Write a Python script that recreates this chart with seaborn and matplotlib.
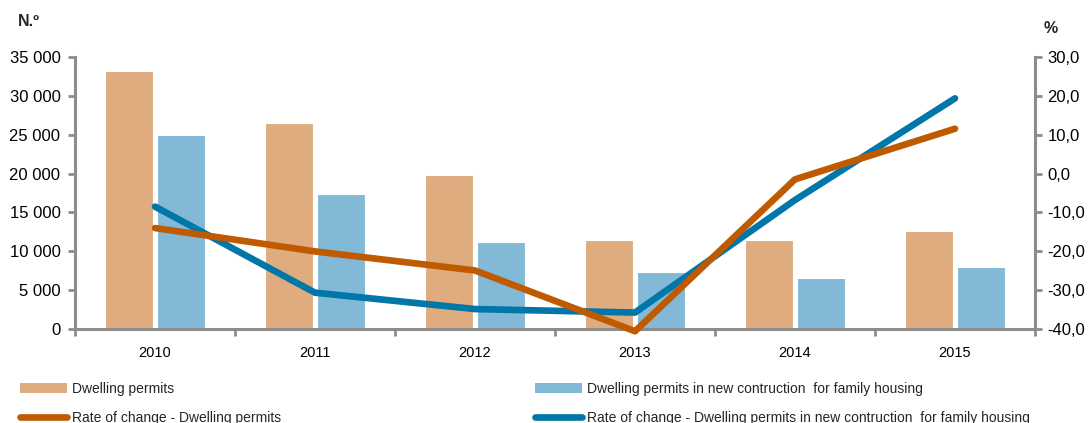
import numpy as np
import pandas as pd
import matplotlib
matplotlib.use("Agg")
import matplotlib.pyplot as plt
import seaborn as sns
from matplotlib.ticker import FuncFormatter, MultipleLocator, FixedLocator
from matplotlib.patches import Patch
from matplotlib.lines import Line2D

years = ["2010", "2011", "2012", "2013", "2014", "2015"]
dwelling_permits = [33200, 26500, 19800, 11450, 11450, 12600]
family_permits = [25000, 17400, 11200, 7300, 6600, 8000]
rate_dwelling = [-14.0, -20.0, -24.9, -40.5, -1.5, 11.5]
rate_family = [-8.5, -30.6, -34.8, -35.7, -6.8, 19.3]

lab_bar1 = "Dwelling permits"
lab_bar2 = "Dwelling permits in new contruction  for family housing"
lab_line1 = "Rate of change - Dwelling permits"
lab_line2 = "Rate of change - Dwelling permits in new contruction  for family housing"

c_bar1 = "#DFAC7F"
c_bar2 = "#82B9D6"
c_line1 = "#C05A00"
c_line2 = "#0077A8"
grey = "#8C8C8C"

sns.set_theme(style="white")
plt.rcParams["font.family"] = ["Liberation Sans", "DejaVu Sans"]

bars = pd.DataFrame({
    "year": years * 2,
    "value": dwelling_permits + family_permits,
    "series": [lab_bar1] * len(years) + [lab_bar2] * len(years),
})
idx = np.arange(len(years))
lines = pd.DataFrame({
    "x": np.concatenate([idx, idx]),
    "rate": rate_dwelling + rate_family,
    "series": [lab_line1] * len(years) + [lab_line2] * len(years),
})

fig = plt.figure(figsize=(10.89, 4.23), dpi=100)
ax = fig.add_axes([0.0689, 0.2215, 0.8815, 0.6445])

sns.barplot(data=bars, x="year", y="value", hue="series", order=years,
            hue_order=[lab_bar1, lab_bar2], palette=[c_bar1, c_bar2],
            width=0.65, gap=0.08, saturation=1, edgecolor="white",
            linewidth=0.8, ax=ax, legend=False)

ax2 = ax.twinx()
sns.lineplot(data=lines, x="x", y="rate", hue="series",
             hue_order=[lab_line1, lab_line2], palette=[c_line1, c_line2],
             linewidth=4.8, solid_capstyle="round", ax=ax2, legend=False,
             clip_on=False)
ax2.lines[0].set_zorder(3)
ax2.lines[1].set_zorder(2)

ax.set_xlim(-0.5, len(years) - 0.5)
ax.set_ylim(0, 35000)
ax2.set_ylim(-40, 30)
ax.yaxis.set_major_locator(MultipleLocator(5000))
ax2.yaxis.set_major_locator(MultipleLocator(10))
ax.yaxis.set_major_formatter(FuncFormatter(lambda v, p: f"{int(v):,}".replace(",", " ")))
ax2.yaxis.set_major_formatter(FuncFormatter(lambda v, p: f"{v:.1f}".replace(".", ",")))

ax.set_xlabel("")
ax.set_ylabel("")
ax2.set_xlabel("")
ax2.set_ylabel("")

ax.set_xticks(idx)
ax.set_xticklabels(years, fontsize=10.5)
ax.xaxis.set_minor_locator(FixedLocator(np.arange(-0.5, len(years), 1.0)))
ax.tick_params(axis="x", which="major", length=0, pad=12, colors="black")
ax.tick_params(axis="x", which="minor", length=5, width=2, color=grey, direction="out", bottom=True)
ax.tick_params(axis="y", which="major", length=5, width=2, color=grey, direction="out",
               labelsize=12, labelcolor="black", left=True, pad=5.5)
ax2.tick_params(axis="y", which="major", length=5, width=2, color=grey, direction="out",
                labelsize=12, labelcolor="black", right=True, pad=4)

for a in (ax, ax2):
    a.spines["top"].set_visible(False)
    for s in ["left", "right", "bottom"]:
        a.spines[s].set_color(grey)
        a.spines[s].set_linewidth(2.2)
ax.spines["right"].set_visible(False)
ax2.spines["left"].set_visible(False)
ax2.spines["bottom"].set_visible(False)
ax.grid(False)
ax2.grid(False)

fig.text(0.016, 0.948, "N.º", fontsize=11.5, fontweight="bold", ha="left", va="center")
fig.text(0.958, 0.932, "%", fontsize=11.5, fontweight="bold", ha="left", va="center")

handles = [
    Patch(facecolor=c_bar1, edgecolor="none"),
    Line2D([0], [0], color=c_line1, linewidth=4.8, solid_capstyle="round"),
    Patch(facecolor=c_bar2, edgecolor="none"),
    Line2D([0], [0], color=c_line2, linewidth=4.8, solid_capstyle="round"),
]
labels = [lab_bar1, lab_line1, lab_bar2, lab_line2]
fig.legend(handles, labels, ncol=2, loc="upper left", bbox_to_anchor=(0.018, 0.097),
           frameon=False, fontsize=10, handlelength=3.4, handleheight=0.65,
           handletextpad=0.36, columnspacing=18.3, labelspacing=1.08,
           borderaxespad=0, borderpad=0)

fig.savefig("out.png", dpi=100)
